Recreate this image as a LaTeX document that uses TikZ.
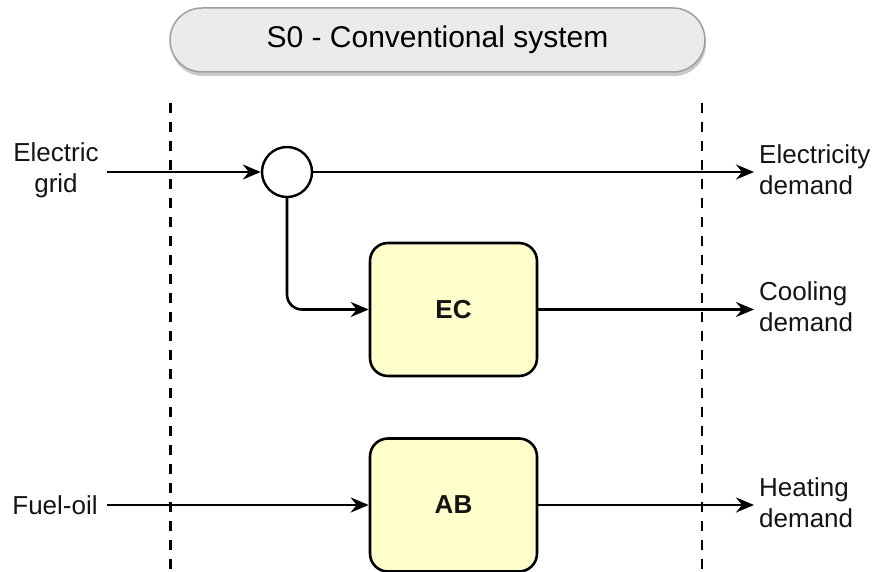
\documentclass[tikz,border=0pt]{standalone}
\usepackage{fontspec}
\setmainfont{Liberation Sans}
\usetikzlibrary{arrows.meta,shadows}

\definecolor{boxfill}{HTML}{FFFFCC}
\definecolor{pillfill}{HTML}{EBEBEB}
\definecolor{pilldraw}{HTML}{9E9E9E}
\definecolor{txt}{HTML}{141414}

\tikzset{
  flow/.style={line width=2.6pt, draw=black, -{Stealth[length=18pt,width=15pt,inset=6pt]}},
  boundary/.style={line width=2.6pt, draw=black, dash pattern=on 10pt off 9pt},
  unit/.style={draw=black, line width=2.6pt, fill=boxfill, rounded corners=18pt,
    minimum width=167pt, minimum height=133pt, inner sep=0pt,
    font=\fontsize{26}{31}\selectfont\bfseries, text=txt},
  junction/.style={circle, draw=black, line width=2.4pt, fill=white,
    minimum size=50pt, inner sep=0pt},
  lbl/.style={inner sep=0pt, font=\fontsize{26}{31}\selectfont, text=txt},
  pill/.style={draw=pilldraw, line width=1.5pt, fill=pillfill,
    rounded corners=32pt, minimum width=535pt, minimum height=64pt,
    font=\fontsize{30}{36}\selectfont, text=black,
    drop shadow={shadow xshift=1pt, shadow yshift=-4pt, fill=black!35, opacity=0.6}}
}

\begin{document}
\begin{tikzpicture}[x=1pt, y=-1pt]
  \useasboundingbox (0,0) rectangle (875,572);

  % title
  \node[pill] (title) at (437.5,40) {S0 - Conventional system};

  % system boundary
  \coordinate (bl1) at (170.5,103);
  \coordinate (bl2) at (170.5,572);
  \coordinate (br1) at (702,103);
  \coordinate (br2) at (702,572);
  \draw[boundary] (bl1) -- (bl2);
  \draw[boundary] (br1) -- (br2);

  % components
  \node[junction] (junc) at (287,172) {};
  \node[unit] (ec) at (453.5,309.5) {EC};
  \node[unit] (ab) at (453.5,505) {AB};

  % inputs
  \node[lbl, align=center] (grid) at (56,170) {Electric\\grid};
  \node[lbl] (fuel) at (55,505) {Fuel-oil};
  \coordinate (gridout) at (107,172);
  \coordinate (fuelout) at (107,505);

  % outputs
  \coordinate (elecend) at (754,172);
  \coordinate (coolend) at (754,309.5);
  \coordinate (heatend) at (754,505);
  \node[lbl, align=left, anchor=west] (elec) at (759,170) {Electricity\\demand};
  \node[lbl, align=left, anchor=west] (cool) at (759,307) {Cooling\\demand};
  \node[lbl, align=left, anchor=west] (heat) at (759,503) {Heating\\demand};

  % flows
  \draw[flow] (gridout) -- (junc.west);
  \draw[flow] (junc.east) -- (elecend);
  \draw[flow, rounded corners=15pt] (junc.south) |- (ec.west);
  \draw[flow] (ec.east) -- (coolend);
  \draw[flow] (fuelout) -- (ab.west);
  \draw[flow] (ab.east) -- (heatend);
\end{tikzpicture}
\end{document}
